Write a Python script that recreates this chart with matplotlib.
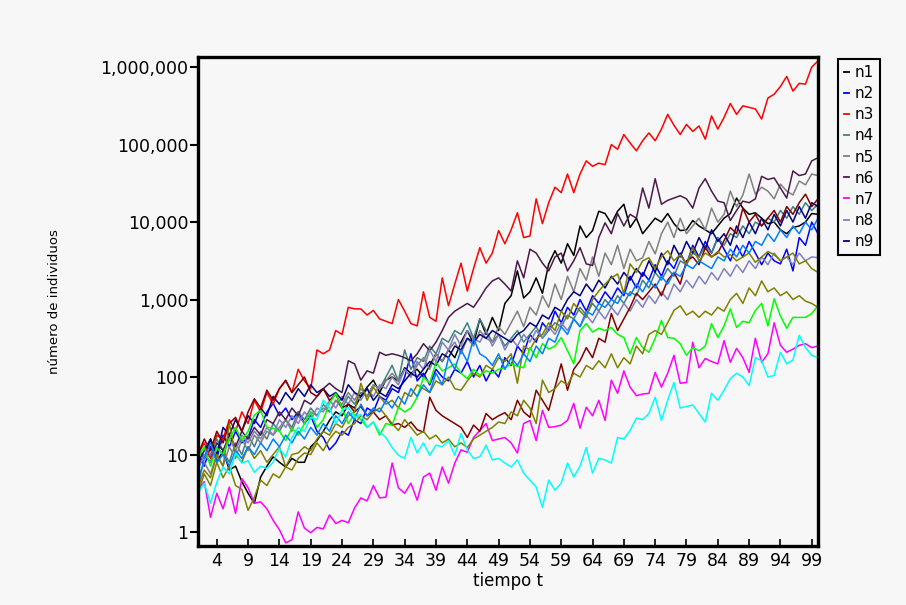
import numpy as np
import matplotlib
matplotlib.use("Agg")
from matplotlib import pyplot as plt
from matplotlib.lines import Line2D
from matplotlib.ticker import FixedLocator, FuncFormatter

# time axis 1..100, series stored as log10(number of individuals)
t = np.arange(1, 101)

n1 = [1.10, 0.95, 1.20, 0.90, 1.05, 0.80, 0.85, 0.65, 0.50, 0.37,
      0.71, 0.85, 0.97, 0.90, 0.84, 0.95, 0.90, 0.90, 1.10, 1.18,
      1.30, 1.44, 1.55, 1.50, 1.65, 1.60, 1.75, 1.87, 1.96, 1.80,
      1.96, 2.00, 1.95, 2.12, 2.05, 2.10, 2.00, 2.15, 2.30, 2.20,
      2.35, 2.25, 2.45, 2.60, 2.43, 2.75, 2.55, 2.77, 2.60, 2.95,
      3.05, 3.37, 3.02, 3.10, 3.28, 3.08, 3.46, 3.63, 3.47, 3.72,
      3.57, 3.95, 3.80, 3.89, 4.14, 4.11, 3.98, 4.14, 4.23, 3.93,
      4.05, 3.85, 3.95, 4.05, 4.00, 4.11, 3.98, 3.89, 3.90, 4.02,
      3.95, 3.90, 3.85, 3.95, 4.05, 4.11, 4.31, 4.18, 4.10, 4.12,
      4.05, 3.98, 4.00, 3.90, 3.85, 3.93, 3.95, 4.00, 4.11, 4.10]

n2 = [1.00, 0.85, 1.10, 0.95, 1.25, 1.10, 1.30, 1.15, 1.22, 1.45,
      1.35, 1.55, 1.66, 1.50, 1.60, 1.45, 1.55, 1.40, 1.50, 1.30,
      1.22, 1.06, 1.15, 1.30, 1.25, 1.45, 1.40, 1.60, 1.55, 1.75,
      1.70, 1.85, 1.80, 2.00, 2.30, 1.95, 2.05, 1.90, 2.10, 2.00,
      1.95, 2.10, 2.05, 2.20, 2.00, 2.15, 1.95, 2.10, 2.00, 2.25,
      2.15, 2.40, 2.30, 2.55, 2.45, 2.70, 2.60, 2.85, 2.70, 2.90,
      2.80, 3.00, 2.85, 3.05, 2.95, 3.10, 3.00, 3.15, 3.05, 3.30,
      3.15, 3.35, 3.25, 3.45, 3.30, 3.50, 3.40, 3.60, 3.45, 3.70,
      3.55, 3.75, 3.60, 3.80, 3.65, 3.50, 3.70, 3.55, 3.75, 3.60,
      3.45, 3.60, 3.50, 3.46, 3.65, 3.37, 3.80, 3.70, 4.00, 3.85]

n3 = [1.00, 1.15, 0.95, 1.25, 1.20, 1.45, 1.30, 1.55, 1.40, 1.70,
      1.55, 1.80, 1.65, 1.85, 1.95, 1.80, 2.10, 1.95, 1.85, 2.35,
      2.30, 2.35, 2.60, 2.55, 2.90, 2.88, 2.88, 2.80, 2.86, 2.75,
      2.72, 2.69, 3.00, 2.85, 2.69, 2.66, 3.10, 2.77, 2.72, 3.28,
      2.92, 3.20, 3.47, 3.11, 3.40, 3.67, 3.47, 3.60, 3.89, 3.72,
      3.90, 4.12, 3.80, 3.82, 4.30, 3.98, 4.25, 4.45, 4.38, 4.62,
      4.38, 4.62, 4.79, 4.72, 4.76, 4.74, 5.00, 4.94, 5.13, 5.02,
      4.92, 5.05, 5.15, 5.05, 5.20, 5.39, 5.25, 5.13, 5.26, 5.17,
      5.24, 5.07, 5.37, 5.20, 5.35, 5.53, 5.39, 5.50, 5.48, 5.46,
      5.33, 5.60, 5.65, 5.75, 5.88, 5.69, 5.79, 5.78, 6.00, 6.08]

n4 = [1.10, 0.95, 1.00, 1.20, 1.05, 0.90, 1.15, 1.00, 1.25, 1.10,
      1.30, 1.20, 1.40, 1.30, 1.45, 1.35, 1.55, 1.45, 1.60, 1.50,
      1.65, 1.55, 1.70, 1.60, 1.75, 1.65, 1.80, 1.75, 1.90, 1.85,
      2.00, 2.15, 1.95, 2.35, 2.10, 2.25, 2.20, 2.40, 2.30, 2.50,
      2.45, 2.60, 2.55, 2.70, 2.50, 2.75, 2.60, 2.45, 2.55, 2.40,
      2.50, 2.60, 2.45, 2.55, 2.65, 2.50, 2.60, 2.70, 2.65, 2.80,
      2.75, 2.90, 2.80, 2.95, 2.85, 3.00, 2.90, 3.05, 2.95, 3.10,
      3.05, 3.25, 3.15, 3.35, 3.25, 3.40, 3.30, 3.50, 3.45, 3.60,
      3.55, 3.70, 3.60, 3.80, 3.70, 3.85, 3.80, 3.95, 3.85, 4.00,
      3.95, 4.05, 4.00, 4.15, 4.05, 4.20, 4.10, 4.25, 4.15, 4.23]

n5 = [0.70, 0.90, 0.75, 1.00, 0.85, 1.10, 0.95, 1.20, 1.05, 1.25,
      1.15, 1.30, 1.25, 1.35, 1.45, 1.30, 1.50, 1.40, 1.55, 1.50,
      1.60, 1.55, 1.70, 1.65, 1.80, 1.70, 1.85, 1.75, 1.90, 1.85,
      1.95, 2.05, 1.95, 2.10, 2.00, 2.15, 2.25, 2.10, 2.30, 2.20,
      2.35, 2.45, 2.30, 2.50, 2.40, 2.60, 2.50, 2.45, 2.65, 2.55,
      2.70, 2.85, 2.65, 2.90, 2.80, 3.05, 2.90, 3.20, 3.00, 3.30,
      3.10, 3.40, 3.25, 3.55, 3.30, 3.60, 3.45, 3.70, 3.40, 3.65,
      3.50, 3.54, 3.75, 3.59, 3.85, 4.00, 3.80, 4.05, 3.85, 3.95,
      4.05, 3.90, 4.18, 4.00, 4.10, 4.40, 4.20, 4.35, 4.62, 4.36,
      4.45, 4.40, 4.30, 4.49, 4.40, 4.35, 4.53, 4.48, 4.62, 4.60]

n6 = [0.85, 1.00, 0.90, 1.15, 1.05, 1.25, 1.10, 1.30, 1.20, 1.35,
      1.25, 1.45, 1.40, 1.55, 1.45, 1.60, 1.50, 1.70, 1.65, 1.75,
      1.85, 1.92, 1.85, 1.80, 2.21, 2.17, 1.96, 2.08, 2.05, 2.32,
      2.28, 2.30, 2.28, 2.25, 2.21, 2.30, 2.43, 2.34, 2.45, 2.60,
      2.77, 2.85, 2.90, 2.95, 2.90, 3.02, 3.15, 3.24, 3.28, 3.20,
      3.11, 3.50, 3.28, 3.65, 3.60, 3.47, 3.37, 3.55, 3.60, 3.37,
      3.50, 3.67, 3.46, 3.44, 3.80, 3.99, 3.85, 4.11, 3.95, 4.10,
      4.05, 4.44, 4.18, 4.56, 4.23, 4.28, 4.31, 4.34, 4.30, 4.18,
      4.44, 4.56, 4.40, 4.27, 4.25, 4.02, 4.15, 4.27, 4.25, 4.30,
      4.59, 4.55, 4.57, 4.44, 4.31, 4.66, 4.60, 4.62, 4.79, 4.83]

n7 = [0.55, 0.65, 0.19, 0.50, 0.30, 0.58, 0.24, 0.69, 0.57, 0.37,
      0.39, 0.30, 0.15, 0.03, -0.14, -0.10, 0.26, 0.05, -0.01, 0.06,
      0.04, 0.22, 0.11, 0.15, 0.12, 0.31, 0.44, 0.40, 0.60, 0.44,
      0.45, 0.89, 0.57, 0.50, 0.63, 0.41, 0.71, 0.76, 0.54, 0.84,
      0.63, 0.89, 1.06, 1.03, 1.22, 1.31, 1.40, 1.18, 1.20, 1.22,
      1.15, 1.02, 1.40, 1.44, 1.18, 1.57, 1.35, 1.36, 1.38, 1.44,
      1.66, 1.34, 1.61, 1.50, 1.70, 1.44, 1.96, 1.79, 2.08, 1.87,
      1.76, 1.78, 1.79, 2.06, 1.87, 2.05, 2.28, 1.92, 1.93, 2.45,
      2.12, 2.24, 2.20, 2.17, 2.47, 2.19, 2.37, 2.25, 2.06, 2.50,
      2.19, 2.30, 2.70, 2.41, 2.32, 2.36, 2.41, 2.43, 2.38, 2.40]

n8 = [0.80, 1.00, 0.90, 1.10, 1.00, 1.20, 1.05, 1.25, 1.15, 1.30,
      1.20, 1.35, 1.25, 1.45, 1.35, 1.50, 1.40, 1.55, 1.45, 1.60,
      1.55, 1.70, 1.60, 1.75, 1.65, 1.80, 1.70, 1.85, 1.75, 1.90,
      1.85, 2.00, 1.90, 2.10, 2.00, 2.20, 2.10, 2.35, 2.20, 2.45,
      2.35, 2.55, 2.40, 2.60, 2.50, 2.45, 2.60, 2.40, 2.55, 2.35,
      2.50, 2.40, 2.55, 2.45, 2.60, 2.50, 2.65, 2.55, 2.70, 2.60,
      2.75, 2.65, 2.80, 2.70, 2.85, 2.75, 2.90, 2.80, 2.95, 2.85,
      3.00, 2.90, 3.05, 2.95, 3.10, 3.00, 3.20, 3.10, 3.25, 3.15,
      3.30, 3.20, 3.35, 3.25, 3.40, 3.30, 3.45, 3.35, 3.50, 3.40,
      3.55, 3.45, 3.60, 3.50, 3.55, 3.45, 3.60, 3.50, 3.55, 3.54]

n9 = [0.90, 1.05, 1.20, 1.00, 1.35, 1.25, 1.45, 1.30, 1.50, 1.40,
      1.60, 1.50, 1.75, 1.65, 1.80, 1.70, 1.85, 1.75, 1.90, 1.80,
      1.85, 1.75, 1.80, 1.70, 1.90, 1.80, 1.75, 1.85, 1.70, 1.80,
      1.75, 1.90, 1.85, 1.95, 2.05, 2.00, 2.10, 2.20, 2.15, 2.30,
      2.25, 2.40, 2.35, 2.50, 2.45, 2.55, 2.50, 2.60, 2.55, 2.50,
      2.45, 2.55, 2.60, 2.70, 2.65, 2.80, 2.75, 2.90, 2.85, 3.00,
      3.10, 3.05, 3.20, 3.10, 3.25, 3.15, 3.30, 3.20, 3.35, 3.25,
      3.40, 3.30, 3.50, 3.35, 3.60, 3.45, 3.70, 3.55, 3.75, 3.60,
      3.80, 3.65, 3.90, 3.75, 3.85, 3.70, 3.95, 3.80, 4.00, 3.85,
      4.05, 3.90, 4.10, 3.95, 4.15, 4.00, 4.20, 4.05, 4.25, 4.20]

n10 = [1.00, 1.20, 1.05, 1.30, 1.15, 1.40, 1.48, 1.30, 1.55, 1.72,
       1.60, 1.83, 1.70, 1.85, 1.96, 1.80, 1.90, 2.00, 1.80, 1.75,
       1.85, 1.70, 1.78, 1.60, 1.65, 1.55, 1.62, 1.50, 1.55, 1.45,
       1.50, 1.38, 1.40, 1.35, 1.42, 1.32, 1.29, 1.74, 1.57, 1.50,
       1.45, 1.40, 1.35, 1.22, 1.38, 1.30, 1.53, 1.45, 1.50, 1.54,
       1.45, 1.70, 1.55, 1.48, 1.83, 1.70, 1.57, 1.87, 2.17, 1.83,
       2.10, 2.21, 2.38, 2.25, 2.50, 2.45, 2.82, 2.60, 2.75, 2.90,
       3.08, 3.00, 3.10, 3.20, 3.05, 3.25, 3.35, 3.20, 3.50, 3.55,
       3.45, 3.67, 3.55, 3.60, 3.76, 3.93, 3.85, 4.18, 4.00, 4.10,
       3.95, 4.05, 4.15, 4.00, 4.20, 4.10, 4.25, 4.36, 4.20, 4.30]

n11 = [0.58, 0.80, 0.70, 1.00, 0.85, 1.40, 1.00, 0.90, 1.10, 0.95,
       1.05, 0.90, 1.00, 1.10, 0.84, 1.00, 1.02, 1.10, 1.05, 1.20,
       1.30, 1.25, 1.40, 1.35, 1.50, 1.55, 1.92, 1.70, 1.87, 1.75,
       1.65, 1.70, 1.60, 1.80, 1.75, 1.90, 1.85, 1.80, 1.95, 1.90,
       2.00, 1.85, 1.83, 1.95, 2.05, 2.00, 2.15, 2.10, 2.25, 2.20,
       2.30, 1.92, 2.40, 2.35, 2.50, 2.55, 2.70, 2.60, 2.85, 2.75,
       2.95, 2.85, 2.77, 3.00, 3.11, 3.20, 3.28, 3.33, 3.08, 3.46,
       3.35, 3.50, 3.54, 3.40, 3.55, 3.63, 3.50, 3.58, 3.45, 3.67,
       3.50, 3.60, 3.55, 3.62, 3.55, 3.58, 3.50, 3.55, 3.60, 3.48,
       3.55, 3.62, 3.58, 3.50, 3.55, 3.60, 3.46, 3.50, 3.40, 3.35]

n12 = [0.95, 1.10, 0.85, 1.09, 1.00, 1.20, 1.35, 1.18, 1.30, 1.51,
       1.57, 1.35, 1.34, 1.30, 1.18, 1.34, 1.25, 1.40, 1.54, 1.35,
       1.45, 1.66, 1.79, 1.60, 1.40, 1.52, 1.45, 1.35, 1.42, 1.25,
       1.40, 1.38, 1.61, 1.55, 1.60, 1.74, 2.00, 1.92, 2.19, 2.08,
       2.12, 2.17, 2.05, 1.98, 2.10, 2.02, 2.08, 2.05, 2.10, 2.12,
       2.17, 2.14, 2.12, 2.38, 2.25, 2.43, 2.36, 2.40, 2.51, 2.34,
       2.17, 2.60, 2.69, 2.58, 2.63, 2.60, 2.64, 2.55, 2.51, 2.30,
       2.51, 2.38, 2.32, 2.50, 2.73, 2.51, 2.50, 2.43, 2.28, 2.38,
       2.34, 2.40, 2.69, 2.51, 2.66, 2.88, 2.64, 2.72, 2.70, 2.86,
       2.95, 2.66, 3.01, 2.79, 2.63, 2.77, 2.77, 2.77, 2.82, 2.92]

n13 = [0.50, 0.75, 0.60, 0.90, 0.70, 0.85, 0.60, 0.55, 0.28, 0.45,
       0.67, 0.60, 0.75, 0.70, 0.84, 0.80, 0.95, 1.02, 1.00, 1.15,
       1.05, 1.20, 1.30, 1.25, 1.35, 1.40, 1.50, 1.45, 1.55, 1.60,
       1.50, 1.40, 1.31, 1.45, 1.35, 1.25, 1.30, 1.20, 1.25, 1.15,
       1.20, 1.10, 1.15, 1.09, 1.20, 1.25, 1.30, 1.35, 1.42, 1.40,
       1.55, 1.50, 1.70, 1.60, 1.40, 1.96, 1.80, 1.85, 1.95, 1.90,
       2.05, 2.00, 2.15, 2.10, 2.21, 2.12, 2.30, 2.12, 2.25, 2.17,
       2.40, 2.30, 2.55, 2.60, 2.55, 2.70, 2.86, 2.92, 2.80, 2.85,
       2.77, 2.85, 2.80, 2.90, 2.85, 3.00, 3.08, 2.95, 3.15, 3.05,
       3.24, 3.10, 3.15, 3.05, 3.10, 3.00, 3.05, 2.98, 2.95, 2.90]

n14 = [0.60, 0.95, 1.15, 0.90, 1.00, 0.85, 1.05, 0.95, 1.10, 1.00,
       1.15, 1.05, 1.20, 1.10, 1.25, 1.15, 1.30, 1.20, 1.35, 1.25,
       1.40, 1.30, 1.50, 1.40, 1.55, 1.45, 1.65, 1.50, 1.60, 1.55,
       1.70, 1.60, 1.75, 1.65, 1.85, 1.75, 1.90, 1.80, 2.05, 1.90,
       2.25, 2.10, 2.35, 2.20, 2.50, 2.30, 2.25, 2.15, 2.30, 2.10,
       2.25, 2.15, 2.30, 2.20, 2.40, 2.30, 2.50, 2.45, 2.65, 2.55,
       2.75, 2.65, 2.85, 2.80, 2.95, 2.90, 3.00, 2.95, 3.10, 3.05,
       3.20, 3.10, 3.25, 3.15, 3.30, 3.20, 3.35, 3.30, 3.45, 3.40,
       3.50, 3.45, 3.40, 3.55, 3.50, 3.65, 3.55, 3.70, 3.60, 3.75,
       3.70, 3.85, 3.75, 3.90, 3.80, 3.95, 3.85, 4.00, 3.90, 4.05]

n15 = [0.50, 0.63, 0.37, 0.64, 0.84, 0.75, 1.02, 0.89, 0.92, 0.77,
       0.85, 0.82, 0.90, 1.08, 0.97, 1.22, 1.35, 1.30, 1.48, 1.45,
       1.70, 1.61, 1.40, 1.57, 1.61, 1.48, 1.52, 1.35, 1.42, 1.29,
       1.22, 1.09, 0.99, 0.95, 1.22, 1.02, 1.15, 0.99, 1.12, 1.10,
       1.18, 0.99, 1.27, 1.06, 0.95, 0.97, 1.12, 0.93, 0.95, 0.89,
       0.84, 0.93, 0.76, 0.67, 0.58, 0.32, 0.67, 0.54, 0.63, 0.89,
       0.71, 0.85, 1.09, 0.76, 0.95, 0.93, 0.89, 1.22, 1.20, 1.31,
       1.47, 1.45, 1.53, 1.74, 1.44, 1.70, 1.93, 1.60, 1.62, 1.64,
       1.53, 1.42, 1.79, 1.70, 1.83, 1.98, 2.05, 2.00, 1.89, 2.25,
       2.21, 2.00, 2.02, 2.32, 2.17, 2.22, 2.54, 2.38, 2.28, 2.25]

series = [n1, n2, n3, n4, n5, n6, n7, n8, n9, n10, n11, n12, n13, n14, n15]
labels = ["n1", "n2", "n3", "n4", "n5", "n6", "n7", "n8", "n9",
          "n10", "n11", "n12", "n13", "n14", "n15"]
colors = ["#000000", "#0000ff", "#ff0000", "#408080", "#808080",
          "#4b1a4b", "#ff00ff", "#8080c0", "#000080",
          "#800000", "#808000", "#00ff00", "#808000", "#0080ff", "#00ffff"]

bg = "#f7f7f7"
plt.rcParams["font.family"] = ["DejaVu Sans"]

fig = plt.figure(figsize=(9.06, 6.05), dpi=100, facecolor=bg)
ax = fig.add_axes([198 / 906, 59 / 605, 620 / 906, 489 / 605])
ax.set_facecolor(bg)

for vals, col in zip(series, colors):
    ax.plot(t, 10 ** np.array(vals), color=col, lw=1.1)

ax.set_yscale("log")
ax.set_xlim(1, 100)
ax.set_ylim(0.66, 1.35e6)

ax.yaxis.set_major_locator(FixedLocator([1, 10, 100, 1e3, 1e4, 1e5, 1e6]))
ax.yaxis.set_minor_locator(FixedLocator([]))
ax.yaxis.set_major_formatter(FuncFormatter(lambda v, p: f"{int(round(v)):,}"))
ax.set_xticks(np.arange(4, 100, 5))

ax.tick_params(axis="y", direction="out", length=6, width=1.5, labelsize=12.5, pad=1)
ax.tick_params(axis="x", direction="in", length=5, width=1.2, labelsize=12.5, pad=4)
for s in ax.spines.values():
    s.set_linewidth(2.4)
    s.set_color("black")

ax.set_xlabel("tiempo t", fontsize=12, labelpad=2)
ax.set_ylabel("número de individuos", fontsize=9.5, labelpad=28)

handles = [Line2D([0], [0], color=c, lw=1.3) for c in colors[:9]]
leg = fig.legend(handles, labels[:9], loc="upper left",
                 bbox_to_anchor=(838 / 906, 1 - 59 / 605),
                 fontsize=11, handlelength=0.35, handletextpad=0.35,
                 labelspacing=0.4, borderpad=0.4, borderaxespad=0,
                 fancybox=False, framealpha=1, facecolor=bg, edgecolor="black")
leg.get_frame().set_linewidth(1.5)

fig.savefig("out.png", dpi=100, facecolor=bg)
